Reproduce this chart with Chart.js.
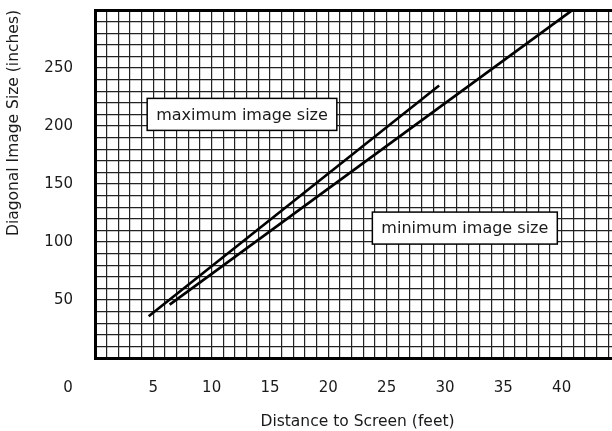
<!DOCTYPE html>
<html>
<head>
<meta charset="utf-8">
<script src="https://cdn.jsdelivr.net/npm/chart.js@4.4.1/dist/chart.umd.min.js"></script>
<style>
  html, body { margin: 0; padding: 0; background: #fff; overflow: hidden; }
</style>
</head>
<body>
<canvas id="chart" width="620" height="431"></canvas>
<script>
// values
var maxDist = [4.6, 29.5];
var maxSize = [36, 235];
var minDist = [6.4, 40.8];
var minSize = [46, 299];
var xLabels = [5, 10, 15, 20, 25, 30, 35, 40];
var yLabels = [50, 100, 150, 200, 250];

function pts(xs, ys) {
  var out = [];
  for (var i in xs) out.push({x: xs[i], y: ys[i]});
  return out;
}

var FONT = "'DejaVu Sans', sans-serif";
var INK = '#1a1a1a';
var GRID = '#222';

// text boxes on the grid and the lone "0" left of the axis
var extras = {
  id: 'extras',
  afterDatasetsDraw: function(chart) {
    var c = chart.ctx, xs = chart.scales.x, ys = chart.scales.y;
    var boxes = [
      {text: 'maximum image size', x: 12.6, y: 210},
      {text: 'minimum image size', x: 31.7, y: 112}
    ];
    c.save();
    c.font = '16px ' + FONT;
    c.textAlign = 'center';
    c.textBaseline = 'middle';
    boxes.forEach(function(b) {
      var px = xs.getPixelForValue(b.x), py = ys.getPixelForValue(b.y);
      var w = c.measureText(b.text).width + 18, h = 32;
      c.fillStyle = '#fff';
      c.fillRect(px - w / 2, py - h / 2, w, h);
      c.lineWidth = 1.5;
      c.strokeStyle = '#000';
      c.strokeRect(px - w / 2, py - h / 2, w, h);
      c.fillStyle = INK;
      c.fillText(b.text, px, py + 1);
    });
    c.font = '15px ' + FONT;
    c.fillText('0', xs.getPixelForValue(0) - 27, 388);
    c.restore();
  }
};

new Chart(document.getElementById('chart'), {
  type: 'line',
  data: {
    datasets: [
      {
        label: 'maximum image size',
        data: pts(maxDist, maxSize),
        borderColor: '#000',
        borderWidth: 2.6,
        pointRadius: 0,
        tension: 0
      },
      {
        label: 'minimum image size',
        data: pts(minDist, minSize),
        borderColor: '#000',
        borderWidth: 2.6,
        pointRadius: 0,
        tension: 0
      }
    ]
  },
  options: {
    responsive: false,
    animation: false,
    layout: { padding: { top: 10, right: 0, bottom: 0, left: 0 } },
    plugins: {
      legend: { display: false },
      tooltip: { enabled: false }
    },
    scales: {
      x: {
        type: 'linear',
        min: 0,
        max: 45,
        afterFit: function(s) {
          s.height = 73;
          s.paddingLeft = 0;
          s.paddingRight = 0;
        },
        border: { display: true, color: '#000', width: 3 },
        grid: { color: GRID, lineWidth: 1.2, drawTicks: false },
        ticks: {
          stepSize: 1,
          maxTicksLimit: 100,
          autoSkip: false,
          maxRotation: 0,
          padding: 21,
          color: INK,
          font: { family: FONT, size: 15 },
          callback: function(v) { return xLabels.indexOf(v) >= 0 ? String(v) : ''; }
        },
        title: {
          display: true,
          text: 'Distance to Screen (feet)',
          color: INK,
          font: { family: FONT, size: 15.5 },
          padding: { top: 0, bottom: 0 }
        }
      },
      y: {
        min: 0,
        max: 300,
        afterFit: function(s) {
          s.width = 95;
          s.paddingTop = 0;
          s.paddingBottom = 0;
        },
        border: { display: true, color: '#000', width: 3 },
        grid: {
          color: function(ctx) { return ctx.tick && ctx.tick.value === 300 ? '#000' : GRID; },
          lineWidth: function(ctx) { return ctx.tick && ctx.tick.value === 300 ? 3 : 1.2; },
          drawTicks: false
        },
        ticks: {
          stepSize: 10,
          maxTicksLimit: 100,
          autoSkip: false,
          padding: 22,
          color: INK,
          font: { family: FONT, size: 15 },
          callback: function(v) { return yLabels.indexOf(v) >= 0 ? String(v) : ''; }
        },
        title: {
          display: true,
          align: 'end',
          text: 'Diagonal Image Size (inches)',
          color: INK,
          font: { family: FONT, size: 15.5 },
          padding: { top: 5, bottom: 0 }
        }
      }
    }
  },
  plugins: [extras]
});
</script>
</body>
</html>
